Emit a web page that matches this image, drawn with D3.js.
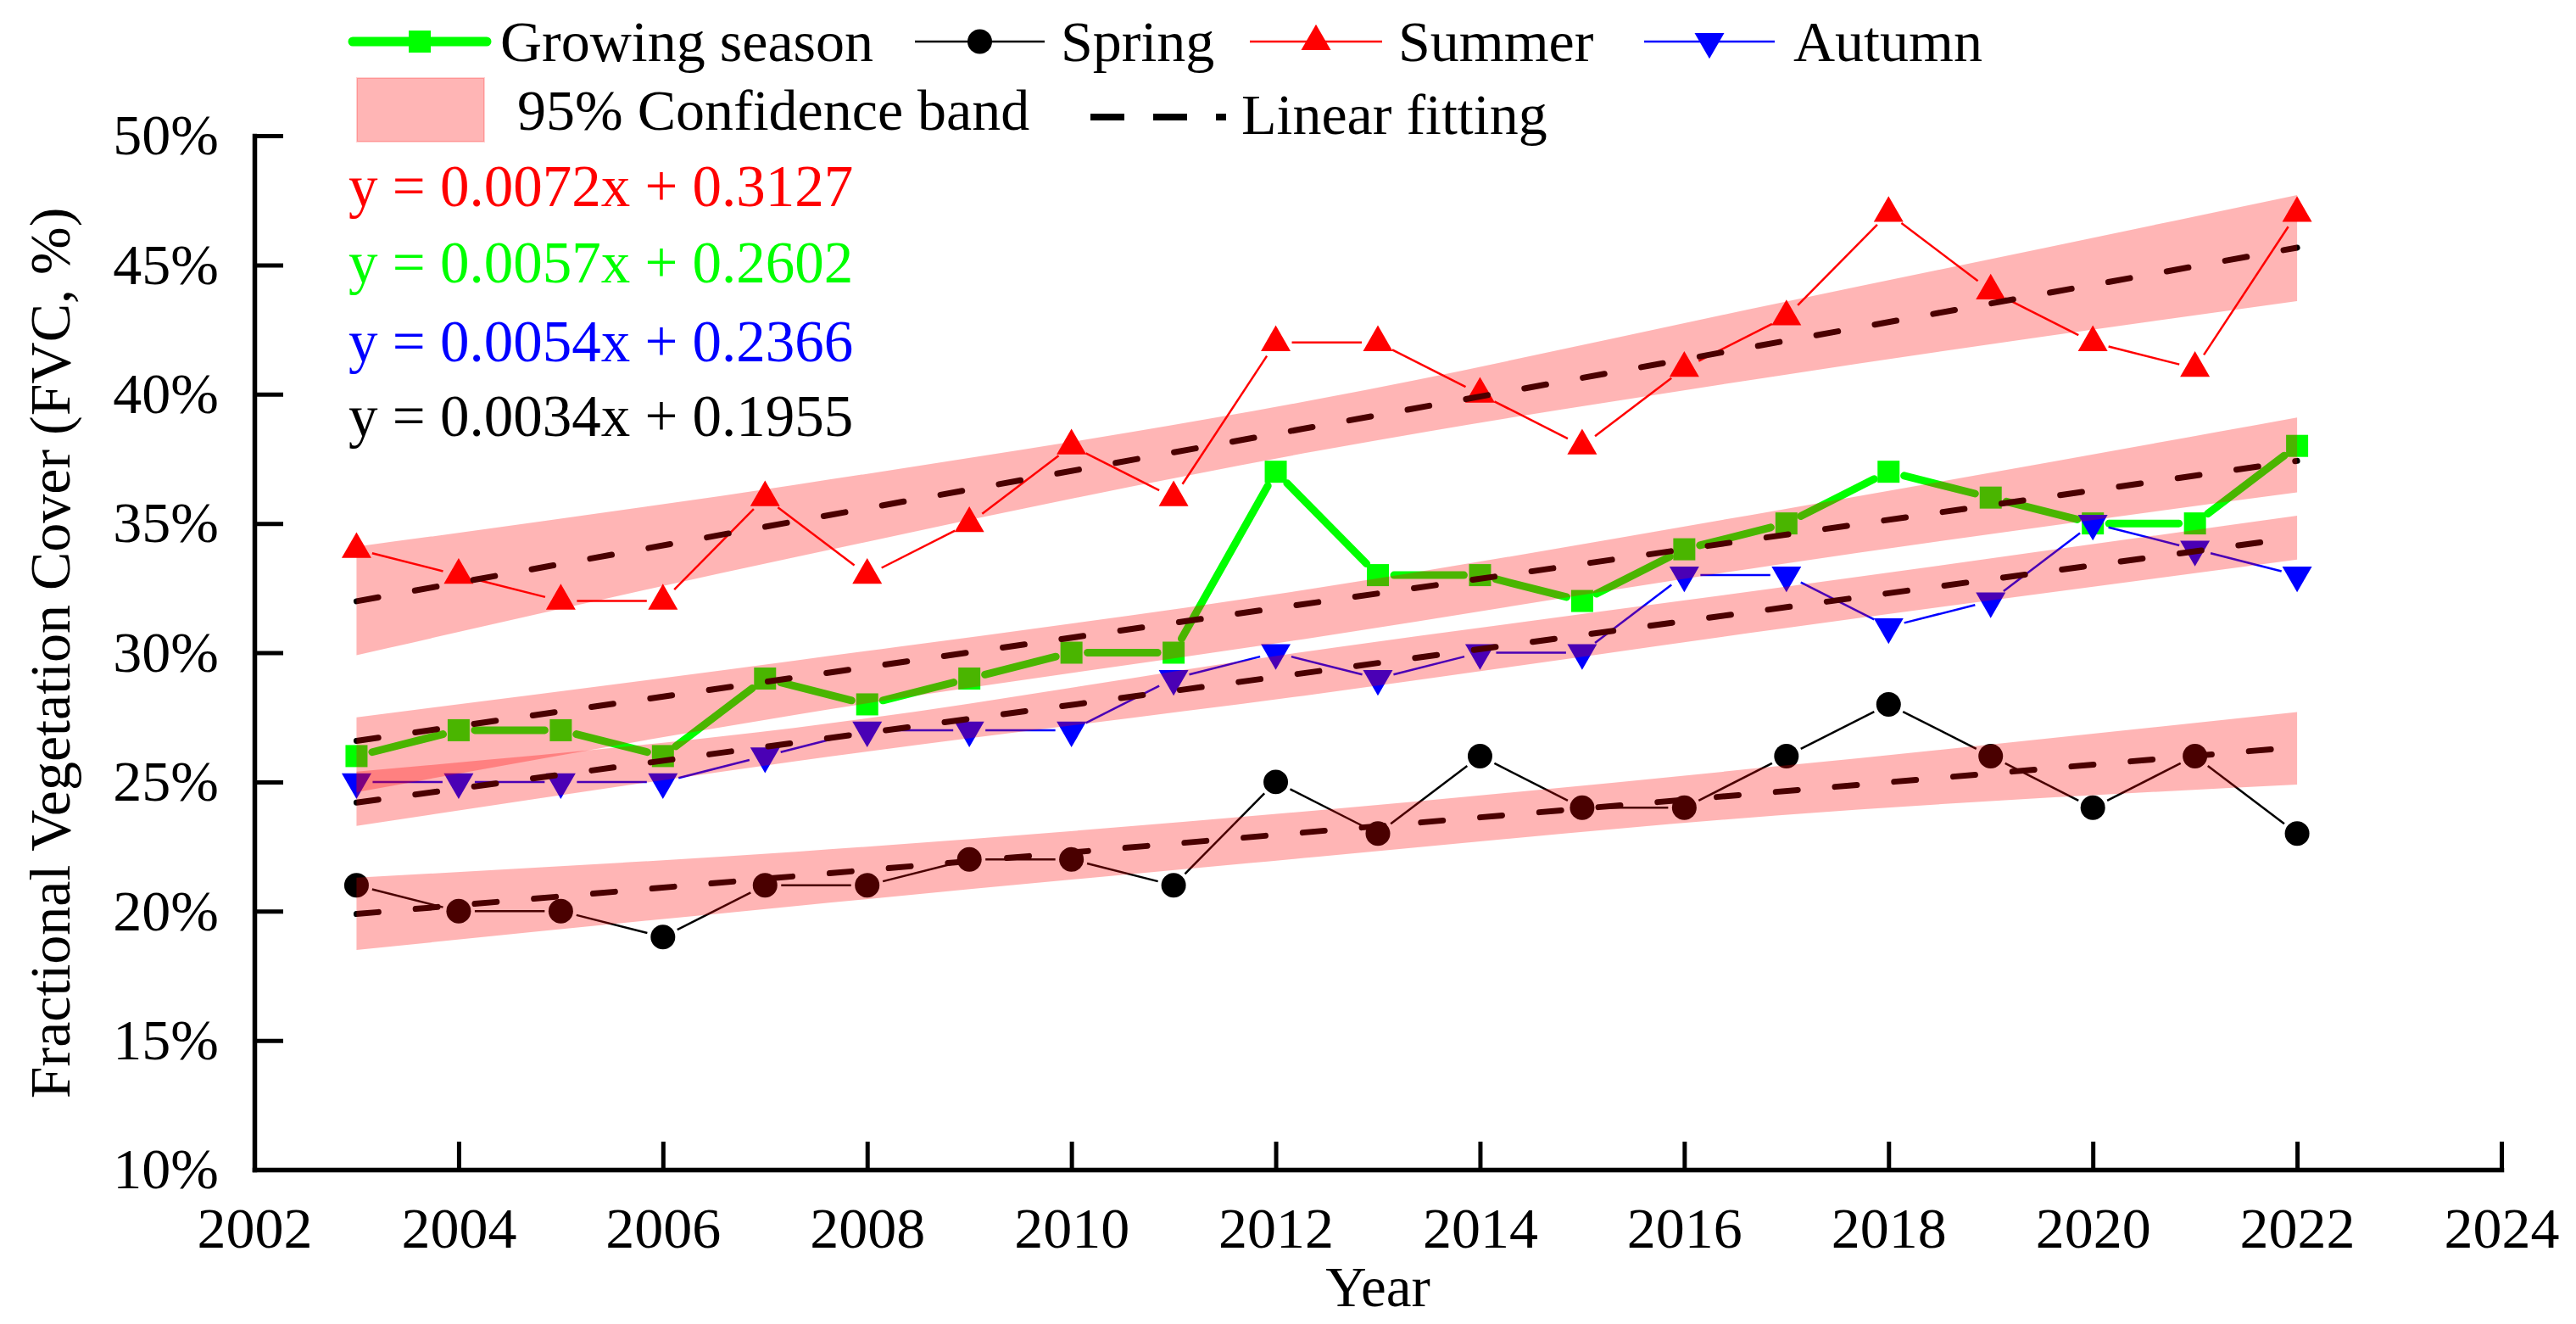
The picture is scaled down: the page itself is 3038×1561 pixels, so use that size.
<!DOCTYPE html>
<html lang="en">
<head>
<meta charset="UTF-8">
<script src="https://cdnjs.cloudflare.com/ajax/libs/d3/7.8.5/d3.min.js"></script>
<style>
    body { margin: 0; background: #fff; }
    svg text { font-family: "Liberation Serif", "Times New Roman", serif; fill: #000; }
</style>
</head>
<body>
<svg id="chart" width="3038" height="1561"></svg>
<script>
    // FVC per season, in %
    const years = [2003, 2004, 2005, 2006, 2007, 2008, 2009, 2010, 2011, 2012,
                   2013, 2014, 2015, 2016, 2017, 2018, 2019, 2020, 2021, 2022];
    const growing = [26, 27, 27, 26, 29, 28, 29, 30, 30, 37, 33, 33, 32, 34, 35, 37, 36, 35, 35, 38];
    const spring  = [21, 20, 20, 19, 21, 21, 22, 22, 21, 25, 23, 26, 24, 24, 26, 28, 26, 24, 26, 23];
    const summer  = [34, 33, 32, 32, 36, 33, 35, 38, 36, 42, 42, 40, 38, 41, 43, 47, 44, 42, 41, 47];
    const autumn  = [25, 25, 25, 25, 26, 27, 27, 27, 29, 30, 29, 30, 30, 33, 33, 31, 32, 35, 34, 33];

    // fitted lines y = a*x + b, x = year - 2002
    const fitNames = ["summer", "growing", "autumn", "spring"];
    const fitSlopes = [0.0072, 0.0057, 0.0054, 0.0034];
    const fitIntercepts = [0.3127, 0.2602, 0.2366, 0.1955];
    const fitLabels = ["y = 0.0072x + 0.3127", "y = 0.0057x + 0.2602",
                       "y = 0.0054x + 0.2366", "y = 0.0034x + 0.1955"];

    const bandYears = [2003, 2007.3, 2012.4, 2016.9, 2022];
    const summerLo  = [29.9, 33.7, 37.8, 40.7, 43.6];
    const summerHi  = [34.1, 36.5, 39.8, 43.5, 47.7];
    const growingLo = [24.6, 27.6, 30.6, 33.4, 36.2];
    const growingHi = [27.5, 29.7, 32.5, 35.5, 39.1];
    const autumnLo  = [23.3, 25.8, 28.4, 30.9, 33.6];
    const autumnHi  = [25.4, 27.1, 30.1, 32.5, 35.3];
    const springLo  = [18.5, 20.2, 22.1, 23.7, 24.9];
    const springHi  = [21.3, 22.3, 23.9, 25.6, 27.7];

    const xTicks = [2002, 2004, 2006, 2008, 2010, 2012, 2014, 2016, 2018, 2020, 2022, 2024];
    const yTicks = [10, 15, 20, 25, 30, 35, 40, 45, 50];

    const svg = d3.select("#chart");
    const x = d3.scaleLinear().domain([2002, 2024]).range([300, 2950]);
    const y = d3.scaleLinear().domain([10, 50]).range([1379, 160]);

    const series = [
        {name: "Growing season", vals: growing, color: "#00ff00", width: 9, cap: "round", shape: d3.symbolSquare, size: 676, rot: 0},
        {name: "Spring", vals: spring, color: "#000000", width: 2.5, cap: "butt", shape: d3.symbolCircle, size: 660, rot: 0},
        {name: "Summer", vals: summer, color: "#ff0000", width: 2.5, cap: "butt", shape: d3.symbolTriangle, size: 530, rot: 0},
        {name: "Autumn", vals: autumn, color: "#0000ff", width: 2.5, cap: "butt", shape: d3.symbolTriangle, size: 530, rot: 180}
    ];

    // line segments stop short of the markers, like the original
    const gap = 19;
    function segments(vals) {
        let out = [];
        for (let i = 0; i < vals.length - 1; i++) {
            let x0 = x(years[i]), y0 = y(vals[i]), x1 = x(years[i + 1]), y1 = y(vals[i + 1]);
            let L = Math.hypot(x1 - x0, y1 - y0);
            if (L < 2 * gap) continue;
            let ux = (x1 - x0) / L, uy = (y1 - y0) / L;
            out.push([x0 + ux * gap, y0 + uy * gap, x1 - ux * gap, y1 - uy * gap]);
        }
        return out;
    }

    let plot = svg.append("g");
    series.forEach(s => {
        plot.append("g").selectAll("line")
            .data(segments(s.vals))
            .enter().append("line")
            .attr("x1", d => d[0]).attr("y1", d => d[1])
            .attr("x2", d => d[2]).attr("y2", d => d[3])
            .attr("stroke", s.color)
            .attr("stroke-width", s.width)
            .attr("stroke-linecap", s.cap);
        plot.append("g").selectAll("path")
            .data(s.vals)
            .enter().append("path")
            .attr("d", d3.symbol().type(s.shape).size(s.size))
            .attr("transform", (d, i) => `translate(${x(years[i])},${y(d)}) rotate(${s.rot})`)
            .attr("fill", s.color);
    });

    // dashed fitted lines
    fitSlopes.forEach((a, i) => {
        let b = fitIntercepts[i];
        plot.append("line")
            .attr("x1", x(2003)).attr("y1", y((a * 1 + b) * 100))
            .attr("x2", x(2022)).attr("y2", y((a * 20 + b) * 100))
            .attr("stroke", "#000")
            .attr("stroke-width", 7)
            .attr("stroke-linecap", "round")
            .attr("stroke-dasharray", "26,44");
    });

    // confidence bands on top, semi transparent red
    const band = d3.area()
        .x((d, i) => x(bandYears[i]))
        .y0(d => y(d[0]))
        .y1(d => y(d[1]))
        .curve(d3.curveMonotoneX);
    [[summerLo, summerHi], [growingLo, growingHi], [autumnLo, autumnHi], [springLo, springHi]].forEach(b => {
        plot.append("path")
            .datum(b[0].map((v, i) => [v, b[1][i]]))
            .attr("d", band)
            .attr("fill", "#ff0000")
            .attr("fill-opacity", 0.29);
    });

    // axes
    let xAxis = d3.axisBottom(x).tickValues(xTicks).tickFormat(d3.format("d"))
        .tickSizeInner(-33).tickSizeOuter(0).tickPadding(44);
    let xg = svg.append("g").attr("transform", "translate(0,1379)").call(xAxis);
    let yAxis = d3.axisLeft(y).tickValues(yTicks).tickFormat(d => d + "%")
        .tickSizeInner(-34).tickSizeOuter(0).tickPadding(42);
    let yg = svg.append("g").attr("transform", "translate(300,0)").call(yAxis);
    [xg, yg].forEach(g => {
        g.select(".domain").attr("stroke", "#000").attr("stroke-width", 5.5).attr("stroke-linecap", "square");
        g.selectAll(".tick line").attr("stroke", "#000").attr("stroke-width", 5);
        g.selectAll(".tick text").attr("font-size", 68).attr("font-family", "Liberation Serif").attr("fill", "#000");
    });

    svg.append("text")
        .attr("x", 1625).attr("y", 1540)
        .attr("text-anchor", "middle")
        .attr("font-size", 67)
        .text("Year");
    svg.append("text")
        .attr("transform", "translate(82,770) rotate(-90)")
        .attr("text-anchor", "middle")
        .attr("font-size", 68)
        .text("Fractional Vegetation Cover (FVC, %)");

    // equations
    const eqColors = ["#ff0000", "#00ff00", "#0000ff", "#000000"];
    const eqBase = [243, 333, 426, 514];
    svg.append("g").selectAll("text")
        .data(fitLabels)
        .enter().append("text")
        .attr("x", 411)
        .attr("y", (d, i) => eqBase[i])
        .attr("font-size", 69)
        .style("fill", (d, i) => eqColors[i])
        .text(d => d);

    // legend
    let leg = svg.append("g");
    const legLineX = [[416, 574], [1079, 1232], [1474, 1630], [1939, 2093]];
    const legTextX = [590, 1251, 1649, 2115];
    series.forEach((s, i) => {
        let [a, b] = legLineX[i];
        leg.append("line")
            .attr("x1", a).attr("x2", b).attr("y1", 49).attr("y2", 49)
            .attr("stroke", s.color)
            .attr("stroke-width", i === 0 ? 11 : 2.5)
            .attr("stroke-linecap", s.cap);
        leg.append("path")
            .attr("d", d3.symbol().type(s.shape).size(s.size)())
            .attr("transform", `translate(${(a + b) / 2},49) rotate(${s.rot})`)
            .attr("fill", s.color);
        leg.append("text")
            .attr("x", legTextX[i]).attr("y", 72)
            .attr("font-size", 68)
            .text(s.name);
    });
    leg.append("rect")
        .attr("x", 421).attr("y", 92).attr("width", 150).attr("height", 75)
        .attr("fill", "#ff0000").attr("fill-opacity", 0.29)
        .attr("stroke", "#ff0000").attr("stroke-opacity", 0.18).attr("stroke-width", 2);
    leg.append("text")
        .attr("x", 610).attr("y", 153)
        .attr("font-size", 68)
        .text("95% Confidence band");
    leg.append("line")
        .attr("x1", 1286).attr("x2", 1446).attr("y1", 138).attr("y2", 138)
        .attr("stroke", "#000").attr("stroke-width", 8)
        .attr("stroke-dasharray", "40,34");
    leg.append("text")
        .attr("x", 1464).attr("y", 158)
        .attr("font-size", 68)
        .text("Linear fitting");
</script>
</body>
</html>
